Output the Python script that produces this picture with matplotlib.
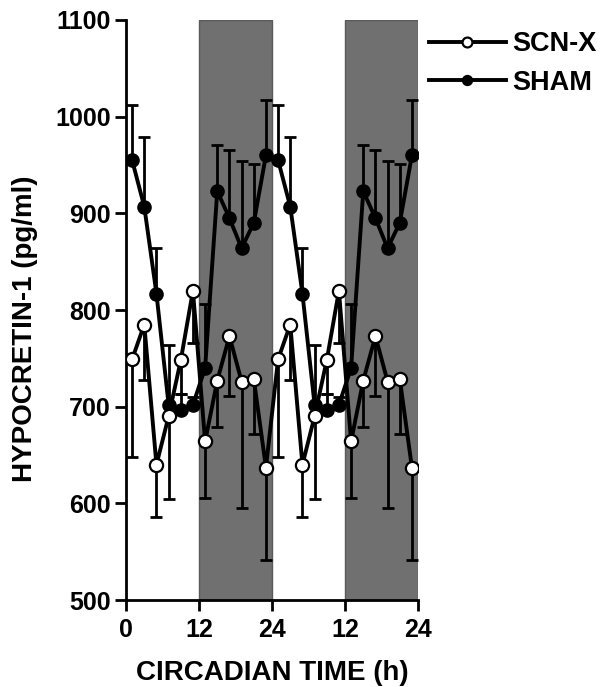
import numpy as np
import matplotlib
matplotlib.use("Agg")
import matplotlib.pyplot as plt
from matplotlib.ticker import FixedLocator

plt.rcParams['font.family'] = ['Liberation Sans', 'DejaVu Sans']
plt.rcParams['font.weight'] = 'bold'

# circadian times (h) of sampling, one 24 h cycle, double-plotted
ct = [1, 3, 5, 7, 9, 11, 13, 15, 17, 19, 21, 23]
sham_mean = [955, 907, 817, 702, 697, 702, 740, 923, 895, 864, 890, 960]
sham_err = [57, 72, 47, 62, 16, 8, 66, 48, 71, 90, 61, 57]
scnx_mean = [749, 785, 640, 690, 748, 820, 664, 727, 773, 726, 729, 637]
scnx_err = [101, 57, 54, 85, 35, 54, 58, 48, 62, 131, 57, 96]

xtick_pos = [0, 12, 24, 36, 48]
xtick_labels = ["0", "12", "24", "12", "24"]
yticks = [500, 600, 700, 800, 900, 1000, 1100]
dark_phases = [(12, 24), (36, 48)]

x = np.array(ct + [c + 24 for c in ct])
sham = np.array(sham_mean * 2)
sham_e = np.array(sham_err * 2)
scnx = np.array(scnx_mean * 2)
scnx_e = np.array(scnx_err * 2)

fig = plt.figure(figsize=(6.01, 6.87), dpi=100)
ax = fig.add_axes([0.2097, 0.1266, 0.4858, 0.8443])

for a, b in dark_phases:
    ax.axvspan(a, b, ymin=0, ymax=1, facecolor='#707070', edgecolor='#5a5a5a',
               linewidth=1.0, zorder=0)

lw = 2.8
# SHAM: error bars upward
ax.errorbar(x, sham, yerr=[np.zeros_like(sham_e), sham_e], fmt='none',
            ecolor='black', elinewidth=2.0, capsize=4, capthick=2.0, zorder=2)
ax.plot(x, sham, '-o', color='black', lw=lw, markersize=9.5,
        markerfacecolor='black', markeredgecolor='black', zorder=3, label='SHAM')
# SCN-X: error bars downward
ax.errorbar(x, scnx, yerr=[scnx_e, np.zeros_like(scnx_e)], fmt='none',
            ecolor='black', elinewidth=2.0, capsize=4, capthick=2.0, zorder=4)
ax.plot(x, scnx, '-o', color='black', lw=lw, markersize=9.5,
        markerfacecolor='white', markeredgecolor='black', markeredgewidth=1.6,
        zorder=5, label='SCN-X')

ax.set_xlim(0, 48)
ax.set_ylim(500, 1100)
ax.xaxis.set_major_locator(FixedLocator(xtick_pos))
ax.set_xticklabels(xtick_labels)
ax.set_yticks(yticks)
ax.tick_params(axis='both', direction='out', length=8, width=2, labelsize=18, pad=3)
ax.tick_params(axis='x', pad=5)
for lab in ax.get_xticklabels() + ax.get_yticklabels():
    lab.set_fontweight('bold')
for s in ['top', 'right']:
    ax.spines[s].set_visible(False)
for s in ['left', 'bottom']:
    ax.spines[s].set_linewidth(2)

ax.set_xlabel('CIRCADIAN TIME (h)', fontsize=20, fontweight='bold')
ax.set_ylabel('HYPOCRETIN-1 (pg/ml)', fontsize=20, fontweight='bold')
ax.xaxis.set_label_coords(0.5, -0.103)
ax.yaxis.set_label_coords(-0.30, 0.467)

h, l = ax.get_legend_handles_labels()
order = [1, 0]
leg = fig.legend([h[i] for i in order], [l[i] for i in order],
                 loc='upper left', bbox_to_anchor=(0.695, 0.97),
                 frameon=False, fontsize=19.5, handlelength=2.85,
                 handletextpad=0.25, labelspacing=0.45, markerscale=0.75,
                 borderaxespad=0)
for t in leg.get_texts():
    t.set_fontweight('bold')

fig.savefig('out.png', dpi=100)
